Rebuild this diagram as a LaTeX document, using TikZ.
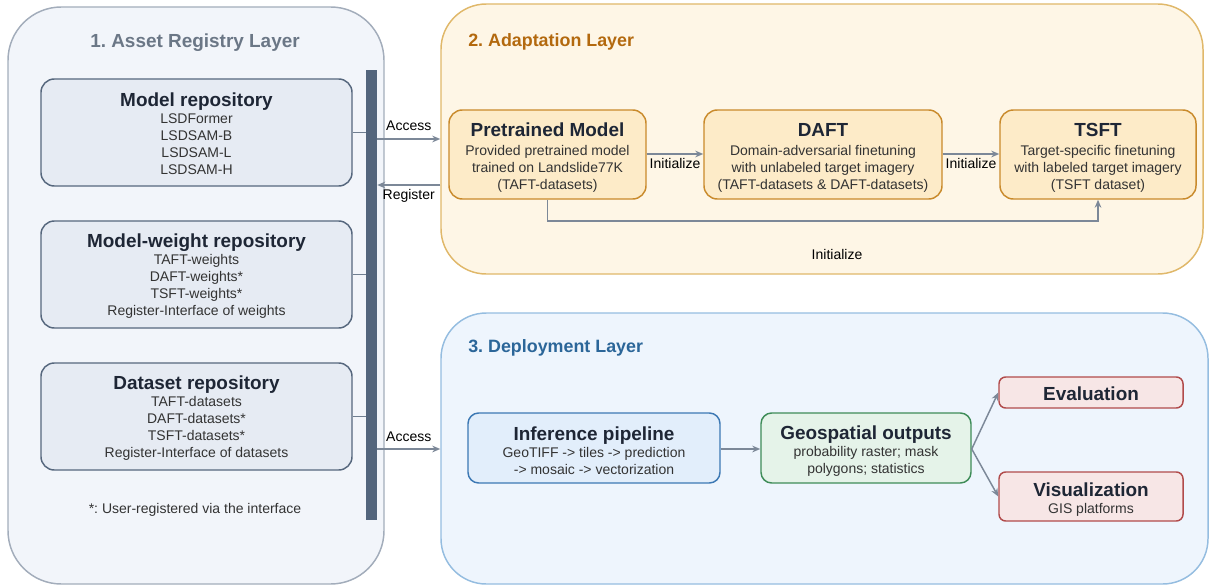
\documentclass[tikz,border=0pt]{standalone}
\usepackage{fontspec}
\setmainfont{Liberation Sans}
\usetikzlibrary{arrows.meta}
\frenchspacing
\definecolor{pOneF}{HTML}{F2F5FA}
\definecolor{pOneB}{HTML}{A3ADBB}
\definecolor{pOneT}{HTML}{6B7786}
\definecolor{repoF}{HTML}{E6EBF3}
\definecolor{repoB}{HTML}{56677D}
\definecolor{barC}{HTML}{53657C}
\definecolor{pTwoF}{HTML}{FEF6E6}
\definecolor{pTwoB}{HTML}{E0B86A}
\definecolor{pTwoT}{HTML}{B3690E}
\definecolor{adaF}{HTML}{FDEBC8}
\definecolor{adaB}{HTML}{C98A2B}
\definecolor{pThrF}{HTML}{EEF5FD}
\definecolor{pThrB}{HTML}{95BDE0}
\definecolor{pThrT}{HTML}{2B6699}
\definecolor{infF}{HTML}{E2EEFB}
\definecolor{infB}{HTML}{3C78B4}
\definecolor{geoF}{HTML}{E5F3E9}
\definecolor{geoB}{HTML}{3E8C58}
\definecolor{outF}{HTML}{F7E6E6}
\definecolor{outB}{HTML}{B14B4B}
\definecolor{arrG}{HTML}{7C8898}
\definecolor{ttlT}{HTML}{1E2635}
\definecolor{bodyT}{HTML}{333333}
\newcommand\bodyfnt{\fontsize{10.5}{12.75}\selectfont}
\newcommand\ttlfnt{\fontsize{14.2}{17}\selectfont\bfseries}
\newcommand\ttl[1]{{\ttlfnt\color{ttlT}#1}}
\begin{document}
\begin{tikzpicture}[x=0.75pt,y=-0.75pt,
  every node/.style={inner sep=0pt},
  panel/.style={line width=1.1pt, rounded corners=34pt},
  repo/.style={draw=repoB, fill=repoF, line width=1.1pt, rounded corners=10pt,
    minimum width=233.25pt, minimum height=80.25pt},
  ada/.style={draw=adaB, fill=adaF, line width=1.1pt, rounded corners=10pt,
    minimum height=66.75pt},
  dep/.style={line width=1.1pt, rounded corners=8pt, minimum height=52.5pt},
  outbox/.style={draw=outB, fill=outF, line width=1.1pt, rounded corners=5pt,
    minimum width=138pt},
  btxt/.style={align=center, font=\bodyfnt, text=bodyT},
  arr/.style={draw=arrG, line width=1.1pt, -{Stealth[length=6pt,width=5pt]}},
  lbl/.style={font=\bodyfnt, text=black, inner sep=2pt},
  link/.style={draw=repoB!85, line width=0.8pt}]
\useasboundingbox (0,0) rectangle (1209,585);

% panels
\node[panel, draw=pOneB, fill=pOneF, rounded corners=40pt, minimum width=282pt, minimum height=432.75pt] (p1) at (196,295.5) {};
\node[panel, draw=pTwoB, fill=pTwoF, minimum width=571.5pt, minimum height=202.5pt] (p2) at (822,139) {};
\node[panel, draw=pThrB, fill=pThrF, minimum width=575.25pt, minimum height=203.25pt] (p3) at (824.5,448.5) {};

\node[font=\fontsize{14.2}{17}\selectfont\bfseries, text=pOneT] (t1) at (195,43) {1. Asset Registry Layer};
\node[font=\fontsize{13.4}{16}\selectfont\bfseries, text=pTwoT, anchor=west] (t2) at (468,42) {2. Adaptation Layer};
\node[font=\fontsize{13.4}{16}\selectfont\bfseries, text=pThrT, anchor=west] (t3) at (468,348) {3. Deployment Layer};

% asset registry
\node[repo] (mr) at (196.5,132.5) {};
\node[btxt] (mrt) at ([yshift=-1.2pt]mr.center) {\ttl{Model repository}\\LSDFormer\\LSDSAM-B\\LSDSAM-L\\LSDSAM-H};
\node[repo] (mw) at (196.5,274.5) {};
\node[btxt] (mwt) at ([yshift=-1.2pt]mw.center) {\ttl{Model-weight repository}\\TAFT-weights\\DAFT-weights*\\TSFT-weights*\\Register-Interface of weights};
\node[repo] (ds) at (196.5,416.5) {};
\node[btxt] (dst) at ([yshift=-1.2pt]ds.center) {\ttl{Dataset repository}\\TAFT-datasets\\DAFT-datasets*\\TSFT-datasets*\\Register-Interface of datasets};
\node[font=\bodyfnt, text=bodyT] (fn) at (195,510) {*: User-registered via the interface};
\node[fill=barC, minimum width=8.25pt, minimum height=337.5pt] (bar) at (371.5,295) {};

\draw[link] (mr.east) -- (mr.east -| bar.west);
\draw[link] (mw.east) -- (mw.east -| bar.west);
\draw[link] (ds.east) -- (ds.east -| bar.west);

\draw[arr] (bar.east |- 0,139) -- node[lbl, above=3.5pt] {Access} (p2.west |- 0,139);
\draw[arr] (p2.west |- 0,185) -- node[lbl, below=0.5pt] {Register} (bar.east |- 0,185);
\draw[arr] (bar.east |- 0,449) -- node[lbl, above=3pt] {Access} (p3.west |- 0,449);

% adaptation
\node[ada, minimum width=147.75pt] (pre) at (547.5,154.5) {};
\node[btxt] (pret) at ([yshift=-2.6pt]pre.center) {\ttl{Pretrained Model}\\[1.5pt]Provided pretrained model\\trained on Landslide77K\\(TAFT-datasets)};
\node[ada, minimum width=178.5pt] (daft) at (823,154.5) {};
\node[btxt] (daftt) at ([yshift=-2.6pt]daft.center) {\ttl{DAFT}\\[1.5pt]Domain-adversarial finetuning\\with unlabeled target imagery\\(TAFT-datasets \& DAFT-datasets)};
\node[ada, minimum width=147pt] (tsft) at (1098,154.5) {};
\node[btxt] (tsftt) at ([yshift=-2.6pt]tsft.center) {\ttl{TSFT}\\[1.5pt]Target-specific finetuning\\with labeled target imagery\\(TSFT dataset)};

\draw[arr] (pre.east |- 0,154) -- node[lbl, below=0.5pt] {Initialize} (daft.west |- 0,154);
\draw[arr] (daft.east |- 0,154) -- node[lbl, below=0.5pt] {Initialize} (tsft.west |- 0,154);
\coordinate (c1) at (547.5,221);
\coordinate (c2) at (1098,221);
\draw[arr] (pre.south) -- (c1) -- (c2) -- (tsft.south);
\node[lbl] (il) at (837,254) {Initialize};

% deployment
\node[dep, draw=infB, fill=infF, minimum width=189pt] (inf) at (594,448) {};
\node[btxt] (inft) at ([yshift=-2pt]inf.center) {\ttl{Inference pipeline}\\GeoTIFF -> tiles -> prediction\\-> mosaic -> vectorization};
\node[dep, draw=geoB, fill=geoF, minimum width=157.5pt] (geo) at (866,448) {};
\node[btxt] (geot) at ([yshift=-2pt]geo.center) {\ttl{Geospatial outputs}\\probability raster; mask\\polygons; statistics};
\node[outbox, minimum height=23.25pt] (ev) at (1091,392.5) {};
\node[btxt] (evt) at ([yshift=-0.6pt]ev.center) {\ttl{Evaluation}};
\node[outbox, minimum height=36.75pt] (vis) at (1091,496.5) {};
\node[btxt] (vist) at ([yshift=-2.2pt]vis.center) {\ttl{Visualization}\\GIS platforms};

\draw[arr] (inf.east |- 0,449) -- (geo.west |- 0,449);
\draw[arr] (geo.east |- 0,449) -- (ev.west);
\draw[arr] (geo.east |- 0,449) -- (vis.west);
\end{tikzpicture}
\end{document}
